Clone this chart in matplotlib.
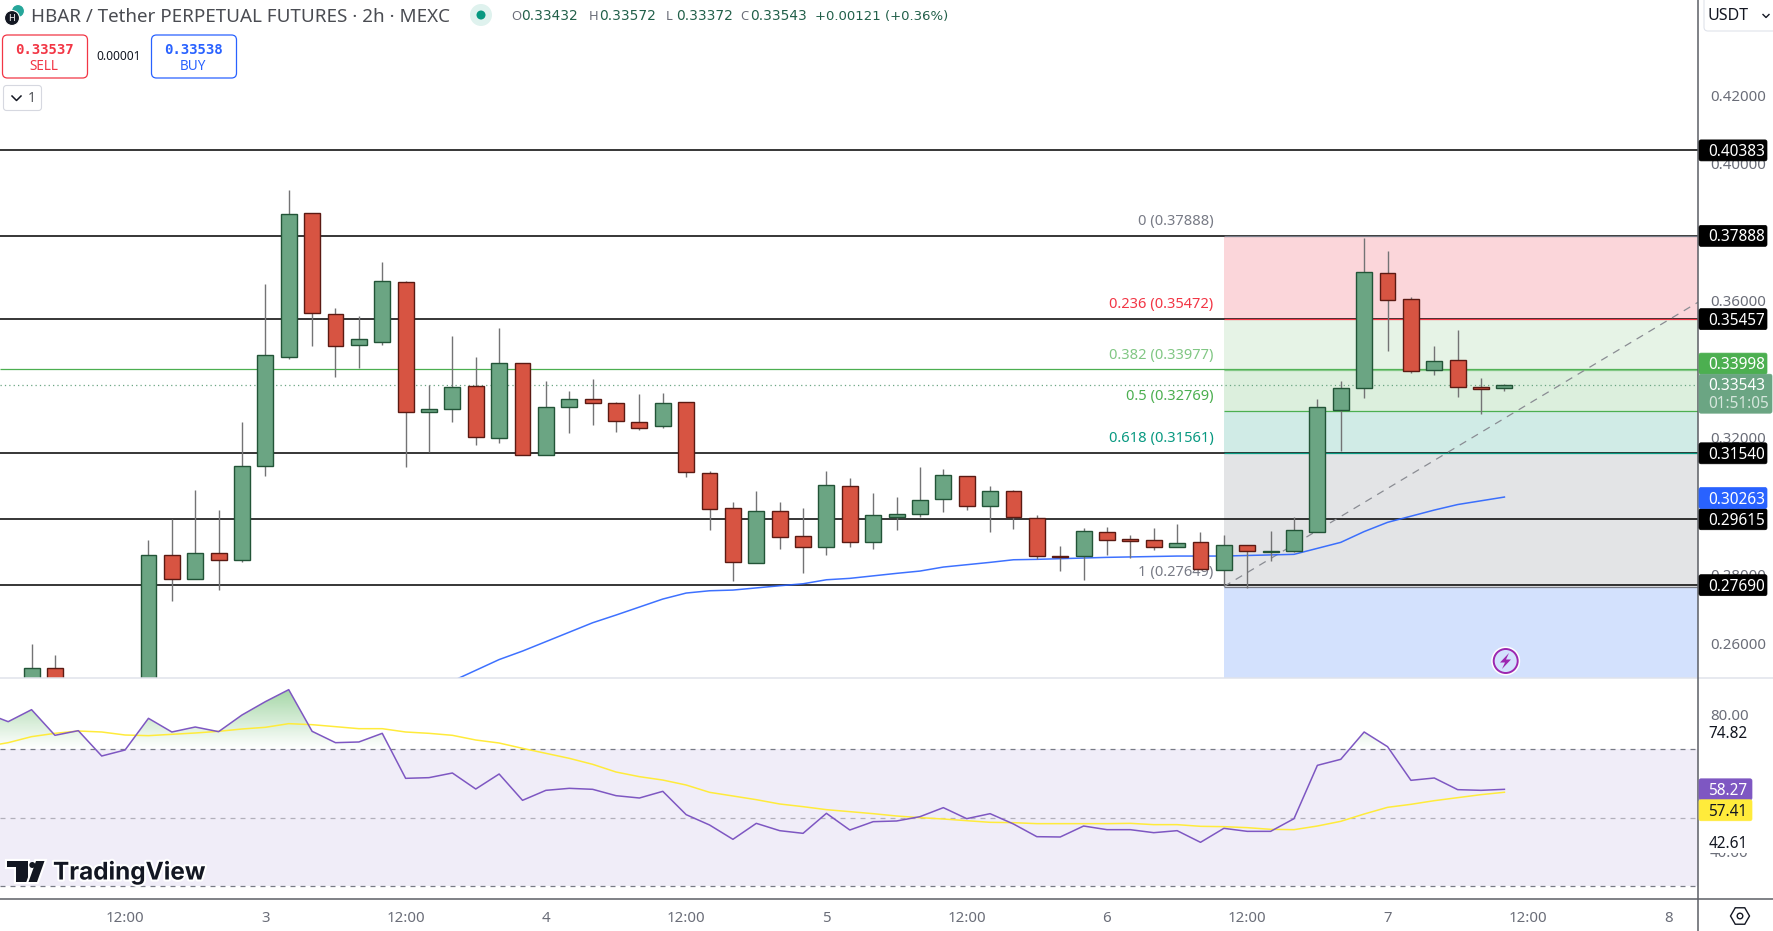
import numpy as np
import matplotlib
matplotlib.use('Agg')
import matplotlib.pyplot as plt
import matplotlib.patheffects as pe
from matplotlib.patches import Rectangle, FancyBboxPatch, Circle, Polygon, RegularPolygon
from matplotlib.path import Path

# candles, bar 0 is the 3rd at 00:00, one bar = 2h
# bars -8..-6 are below the visible pane
bars = list(range(-10, 54))
opens = [0.2460, 0.25261, np.nan, np.nan, np.nan, 0.2460, 0.2856, 0.27859, 0.28618, 0.28414,
         0.31158, 0.3436, 0.38545, 0.35596, 0.34691, 0.34798, 0.3653, 0.32735, 0.32822, 0.33494,
         0.31976, 0.34165, 0.31479, 0.32881, 0.33114, 0.32998, 0.32443, 0.32326, 0.33027, 0.30954,
         0.29932, 0.28326, 0.29845, 0.29115, 0.28794, 0.30574, 0.2894, 0.2967, 0.29757, 0.30195,
         0.30866, 0.3, 0.30429, 0.2964, 0.2854, 0.28531, 0.29231, 0.29026, 0.28998, 0.28794,
         0.2894, 0.28122, 0.28852, 0.28667, 0.28696, 0.29251, 0.32813, 0.33436, 0.36793, 0.36034,
         0.33961, 0.34253, 0.33465, 0.33432]
closes = [0.25261, 0.2450, np.nan, np.nan, np.nan, 0.2856, 0.27859, 0.28618, 0.28414, 0.31158,
          0.34399, 0.38516, 0.35625, 0.34662, 0.34866, 0.3656, 0.32735, 0.32822, 0.33465, 0.32005,
          0.34165, 0.31479, 0.32881, 0.33114, 0.32998, 0.32472, 0.32268, 0.32998, 0.30983, 0.29903,
          0.28356, 0.29845, 0.29086, 0.28794, 0.30604, 0.2894, 0.29728, 0.29757, 0.30166, 0.30896,
          0.3, 0.30429, 0.2967, 0.28531, 0.28521, 0.2926, 0.28998, 0.28988, 0.28794, 0.28911,
          0.28151, 0.28852, 0.28677, 0.28686, 0.2929, 0.32881, 0.33436, 0.36823, 0.36005, 0.33932,
          0.34224, 0.33465, 0.33426, 0.33543]
highs = [0.25971, 0.2565, np.nan, np.nan, np.nan, 0.29008, 0.29621, 0.30467, 0.29883, 0.32453,
         0.36482, 0.39226, 0.38545, 0.35781, 0.35547, 0.37124, 0.36569, 0.33533, 0.34964, 0.3435,
         0.35197, 0.34165, 0.3365, 0.33358, 0.33708, 0.33027, 0.3327, 0.3330, 0.33027, 0.31022,
         0.30107, 0.30429, 0.30107, 0.29942, 0.31022, 0.30808, 0.3038, 0.30263, 0.31139, 0.3108,
         0.30866, 0.30584, 0.30458, 0.29728, 0.28832, 0.29348, 0.29387, 0.29153, 0.29358, 0.29475,
         0.29241, 0.29154, 0.28852, 0.2927, 0.29679, 0.33124, 0.3364, 0.37825, 0.37445, 0.36102,
         0.34672, 0.35139, 0.33737, 0.33572]
lows = [0.2440, 0.2440, np.nan, np.nan, np.nan, 0.2440, 0.27236, 0.27859, 0.27557, 0.28375,
        0.30886, 0.34292, 0.34681, 0.33776, 0.34039, 0.34701, 0.31149, 0.31577, 0.32462, 0.31781,
        0.31839, 0.31479, 0.31479, 0.32141, 0.32375, 0.3217, 0.32229, 0.32287, 0.30857, 0.2931,
        0.27821, 0.28326, 0.28755, 0.28054, 0.28579, 0.28813, 0.28755, 0.2931, 0.29689, 0.29835,
        0.29884, 0.29251, 0.29329, 0.28443, 0.28112, 0.2785, 0.2857, 0.28492, 0.28725, 0.28794,
        0.28151, 0.27694, 0.27597, 0.28404, 0.28657, 0.29251, 0.31616, 0.33163, 0.34536, 0.33893,
        0.33835, 0.33192, 0.32696, 0.33372]

ema_bars = [8, 10, 11, 14, 15, 17, 18, 19, 20, 22, 23, 24, 25, 27, 28, 29, 31, 32, 33, 36, 39, 41,
            44, 46, 47, 48, 50, 51, 53]
ema_vals = [0.2489, 0.25518, 0.25766, 0.26593, 0.26818, 0.27285, 0.2746, 0.27527, 0.27547, 0.27673,
            0.27731, 0.27848, 0.27889, 0.28035, 0.28102, 0.28219, 0.28356, 0.28432, 0.28444, 0.28502,
            0.2854, 0.2854, 0.2859, 0.2894, 0.29255, 0.29524, 0.29883, 0.30044, 0.30263]

rsi_bars = list(range(-12, 54))
rsi_vals = [80.68, 78.05, 81.56, 74.06, 75.42, 68.01, 69.77, 79.03, 75.03, 76.49, 75.13, 80.0,
            83.9, 87.41, 75.23, 71.91, 72.11, 74.64, 61.48, 61.68, 63.04, 58.36, 62.75, 55.05,
            57.97, 58.56, 58.27, 56.41, 55.73, 57.68, 50.86, 47.84, 43.65, 48.32, 46.18, 45.4,
            51.25, 46.37, 48.81, 49.01, 50.27, 52.91, 49.69, 51.15, 48.13, 44.42, 44.33, 47.54,
            46.47, 46.47, 45.59, 46.18, 42.77, 46.86, 45.98, 45.98, 49.69, 65.28, 67.04, 75.03,
            70.74, 60.9, 61.58, 58.17, 57.97, 58.27]
rsi_ma = [70.74, 71.91, 73.67, 74.64, 75.32, 75.03, 74.15, 73.96, 74.35, 74.74, 75.23, 75.91,
          76.4, 77.47, 77.17, 76.59, 76.0, 76.0, 75.03, 74.64, 74.06, 72.69, 71.81, 70.25,
          68.79, 67.33, 65.58, 63.33, 61.97, 60.98, 59.53, 57.39, 56.32, 55.24, 53.98, 53.2,
          52.32, 51.74, 51.15, 50.47, 49.98, 49.59, 49.1, 48.62, 48.52, 48.23, 48.23, 48.23,
          48.23, 48.32, 47.94, 47.94, 47.45, 47.35, 47.06, 46.57, 46.47, 47.54, 48.91, 51.05,
          53.0, 53.88, 54.95, 55.83, 56.71, 57.41]

black_levels = [0.40383, 0.37888, 0.35457, 0.31540, 0.29615, 0.27690]
alert_level = 0.33998
last_price = 0.33543

fib_ratio = ['0', '0.236', '0.382', '0.5', '0.618', '1']
fib_price = [0.37888, 0.35472, 0.33977, 0.32769, 0.31561, 0.27649]
fib_line_col = ['#787b86', '#f23645', '#81c784', '#4caf50', '#089981', '#787b86']
fib_text_col = ['#787b86', '#f23645', '#81c784', '#4caf50', '#089981', '#787b86']
fib_fill_col = ['#fbd6da', '#e6f3e6', '#dcefdd', '#d0ebe6', '#e3e4e6', '#d3e1fd']
fib_bar = 41
trend_end_price = 0.3595

price_ticks = [0.26, 0.28, 0.30, 0.32, 0.36, 0.40, 0.42]
rsi_ticks = [40, 60, 80]
time_ticks = [-6, 0, 6, 12, 18, 24, 30, 36, 42, 48, 54, 60]
time_labels = ['12:00', '3', '12:00', '4', '12:00', '5', '12:00', '6', '12:00', '7', '12:00', '8']

W, H = 1774, 931
FONT = 'Noto Sans'
GREEN, GREEN_EDGE = '#6ba583', '#225437'
RED, RED_EDGE = '#d75442', '#5b1a13'
AXIS_COL = '#5d5f66'
TICK_COL = '#6a6d78'
PANE_R, PANE_TOP = 1698, 678
RSI_BOTTOM = 898.5
X_LEFT, X_RIGHT = -11.35, 61.28

plt.rcParams['font.family'] = [FONT, 'DejaVu Sans']


def px_axes(x0, y0, x1, y1):
    return fig.add_axes([x0 / W, 1 - y1 / H, (x1 - x0) / W, (y1 - y0) / H])


def put(x, y, s, color, px=14, ha='left', weight='normal', **kw):
    # va center sits a little high for digits, push it down
    return ov.text(x, y + 1.5, s, color=color, fontsize=px * 0.72, ha=ha, va='center',
                   fontweight=weight, **kw)


def to_px_y(ax, val):
    return H - ax.transData.transform((0, val))[1]


def axis_label(y, s, bg, fg='white', right=1769, h=21):
    ov.add_patch(FancyBboxPatch((PANE_R + 1, y - h / 2), right - PANE_R - 3, h,
                                boxstyle='round,pad=0,rounding_size=2', fc=bg, ec=bg, lw=0.5, zorder=5))
    put(1708.5, y, s, fg, px=15.4, weight='medium', zorder=6)


def plain_label(y, s):
    ov.add_patch(Rectangle((PANE_R + 1, y - 10.5), 60, 21, fc='white', ec='none', zorder=5))
    put(1708.5, y, s, '#131722', px=15.4, zorder=6)


fig = plt.figure(figsize=(W / 100, H / 100), dpi=100, facecolor='white')

# price pane
ax = px_axes(0, 0, PANE_R, PANE_TOP)
ax.set_xlim(X_LEFT, X_RIGHT)
ax.set_ylim(0.2498, 0.44774)
y_bottom = ax.get_ylim()[0]

fib_edges = fib_price + [y_bottom]
for i in range(len(fib_fill_col)):
    ax.fill_between([fib_bar, X_RIGHT], fib_edges[i + 1], fib_edges[i], color=fib_fill_col[i], lw=0, zorder=1)

ax.hlines(black_levels, X_LEFT, X_RIGHT, color='black', lw=1.1, zorder=2)
ax.hlines(alert_level, X_LEFT, X_RIGHT, color='#4caf50', lw=0.9, zorder=2)
ax.hlines(last_price, X_LEFT, X_RIGHT, color='#6ba583', lw=0.9, linestyles=(0, (1, 2.5)), zorder=2)
ax.hlines(fib_price, fib_bar, X_RIGHT, colors=fib_line_col, lw=0.9, zorder=2.5)
ax.plot([fib_bar, X_RIGHT], [fib_price[-1], trend_end_price], color='#8a8c93', lw=0.9,
        ls=(0, (6, 5)), zorder=3)
ax.plot(ema_bars, ema_vals, color='#2962ff', lw=1.1, zorder=3.5, alpha=0.9)

x = np.array(bars, dtype=float)
o, c, hi, lo = map(np.array, (opens, closes, highs, lows))
up = c >= o
ok = ~np.isnan(o)
ax.vlines(x[ok], lo[ok], hi[ok], color='#737375', lw=1.0, zorder=4)
ax.bar(x[ok & up], (c - o)[ok & up], bottom=o[ok & up], width=0.68, color=GREEN, edgecolor=GREEN_EDGE,
       lw=1.0, zorder=5)
ax.bar(x[ok & ~up], (o - c)[ok & ~up], bottom=c[ok & ~up], width=0.68, color=RED, edgecolor=RED_EDGE,
       lw=1.0, zorder=5)

for r, p, col, in zip(fib_ratio, fib_price, fib_text_col):
    ax.annotate(f'{r} ({p:.5f})', (fib_bar, p), xytext=(-10.5, 7), textcoords='offset pixels',
                ha='right', va='bottom', color=col, fontsize=14.7 * 0.72, zorder=3.6)

ax.set_yticks(price_ticks, [f'{t:.5f}' for t in price_ticks])
ax.yaxis.tick_right()
ax.tick_params(axis='y', length=0, pad=8.5, labelcolor=TICK_COL, labelsize=15 * 0.72)
ax.set_xticks([])
for s in ax.spines.values():
    s.set_visible(False)

# rsi pane
rx = px_axes(0, PANE_TOP + 1, PANE_R, RSI_BOTTOM)
rsi_ylim = (50 + (817.6 - RSI_BOTTOM) / 3.42, 50 + (817.6 - PANE_TOP - 1) / 3.42)
rx.axhspan(30, 70, color='#f0edf8', lw=0, zorder=1)
rx.hlines([70, 30], X_LEFT, X_RIGHT, color='#787b86', lw=0.9, ls=(0, (4, 4)), zorder=2)
rx.hlines(50, X_LEFT, X_RIGHT, color='#b2b0bb', lw=0.9, ls=(0, (4, 4)), zorder=2)

rb, rv = np.array(rsi_bars, dtype=float), np.array(rsi_vals)
band = rx.fill_between(rb, 70, rv, where=rv > 70, interpolate=True, color='none', lw=0)
grad = np.zeros((64, 2, 4))
grad[..., :3] = matplotlib.colors.to_rgb('#4caf50')
grad[..., 3] = np.linspace(0.58, 0, 64)[:, None]
im = rx.imshow(grad, extent=(X_LEFT, X_RIGHT, 70, 90), aspect='auto', zorder=1.5, origin='upper')
im.set_clip_path(Path.make_compound_path(*band.get_paths()), transform=rx.transData)
rx.set_xlim(X_LEFT, X_RIGHT)
rx.set_ylim(*rsi_ylim)

rx.plot(rsi_bars, rsi_ma, color='#ffeb3b', lw=1.1, zorder=3)
rx.plot(rsi_bars, rsi_vals, color='#7e57c2', lw=1.1, zorder=4)

rx.set_yticks(rsi_ticks, [f'{t:.2f}' for t in rsi_ticks])
rx.yaxis.tick_right()
rx.tick_params(axis='y', length=0, pad=8.5, labelcolor=TICK_COL, labelsize=15 * 0.72)
rx.set_xticks(time_ticks, time_labels)
rx.tick_params(axis='x', length=0, pad=9, labelcolor=TICK_COL, labelsize=15 * 0.72)
for s in rx.spines.values():
    s.set_visible(False)

# overlay in pixels for the chart furniture
ov = fig.add_axes([0, 0, 1, 1], facecolor='none')
ov.set_xlim(0, W)
ov.set_ylim(H, 0)
ov.axis('off')
ov.plot([PANE_R, PANE_R], [0, H], color=AXIS_COL, lw=1.1, zorder=3)
ov.plot([0, W], [RSI_BOTTOM, RSI_BOTTOM], color=AXIS_COL, lw=1.1, zorder=3)
ov.plot([0, W], [PANE_TOP, PANE_TOP], color='#e0e3eb', lw=1.1, zorder=2)

# axis labels, price
for p in black_levels:
    axis_label(to_px_y(ax, p), f'{p:.5f}', 'black')
axis_label(to_px_y(ax, alert_level) - 5.5, f'{alert_level:.5f}', '#4caf50')
axis_label(to_px_y(ax, 0.30263) + 1, '0.30263', '#2962ff')
yl = to_px_y(ax, last_price)
ov.add_patch(FancyBboxPatch((PANE_R + 1, yl - 10.5), W - PANE_R - 3, 39,
                            boxstyle='round,pad=0,rounding_size=2', fc=GREEN, ec=GREEN, lw=0.5, zorder=5))
put(1708.5, yl, f'{last_price:.5f}', 'white', px=15.4, weight='medium', zorder=6)
put(1708.5, yl + 17.5, '01:51:05', '#d5e6dc', px=15.4, zorder=6)

# axis labels, rsi
plain_label(to_px_y(rx, 74.82), '74.82')
plain_label(to_px_y(rx, 42.61), '42.61')
axis_label(to_px_y(rx, 58.27), '58.27', '#7e57c2', right=1754)
axis_label(to_px_y(rx, 57.41) + 18, '57.41', '#ffeb3b', fg='#131722', right=1754)

# header
ov.add_patch(Circle((12, 18), 7.5, fc='#131722', ec='white', lw=0.8, zorder=3))
ov.add_patch(Circle((18, 11), 6.5, fc='#26a69a', ec='white', lw=0.8, zorder=2))
put(12, 17, 'H', 'white', px=9, ha='center', weight='bold', zorder=4)
put(31, 16, 'HBAR / Tether PERPETUAL FUTURES · 2h · MEXC', '#4a4c52', px=18.8)
ov.add_patch(Circle((481, 15), 11, fc='#dff2ee', ec='none'))
ov.add_patch(Circle((481, 15), 4.5, fc='#089981', ec='none'))

ohlc_x = [511, 589, 666, 740]
ohlc_lab = ['O', 'H', 'L', 'C']
ohlc_val = ['0.33432', '0.33572', '0.33372', '0.33543']
for xp, lab, val in zip(ohlc_x, ohlc_lab, ohlc_val):
    put(xp, 15, lab, '#6a6d78', px=13)
    put(xp + 10, 15, val, '#22604a', px=13.8, family='DejaVu Sans')
put(815, 15, '+0.00121 (+0.36%)', '#22604a', px=13.2, family='DejaVu Sans')

ov.add_patch(FancyBboxPatch((2.5, 35), 85, 43, boxstyle='round,pad=0,rounding_size=5', fc='white', ec='#f23645', lw=0.9))
ov.add_patch(FancyBboxPatch((151.5, 35), 85, 43, boxstyle='round,pad=0,rounding_size=5', fc='white', ec='#2962ff', lw=0.9))
put(44, 48, '0.33537', '#f23645', px=14, ha='center', weight='bold', family='DejaVu Sans Mono')
put(44, 65.5, 'SELL', '#f23645', px=13.5, ha='center')
put(119, 54.5, '0.00001', '#131722', px=12, ha='center')
put(193, 48, '0.33538', '#2962ff', px=14, ha='center', weight='bold', family='DejaVu Sans Mono')
put(193, 65.5, 'BUY', '#2962ff', px=13.5, ha='center')
ov.add_patch(FancyBboxPatch((3.5, 85.5), 38, 25, boxstyle='round,pad=0,rounding_size=3', fc='white', ec='#d6d8e0', lw=0.8))
ov.plot([12, 16.5, 21], [96, 100.5, 96], color='#131722', lw=1.1)
put(28, 97, '1', '#4a4c52', px=14)

# currency box
ov.add_patch(FancyBboxPatch((1704, -4), 80, 35, boxstyle='round,pad=0,rounding_size=4', fc='white', ec='#e0e3eb', lw=0.8))
put(1707.5, 14, 'USDT', '#131722', px=16)
ov.plot([1763, 1766, 1769], [14.5, 17.5, 14.5], color='#131722', lw=1.0)

# bolt marker
ov.add_patch(Circle((1505.7, 661), 14.5, fc='white', ec='none', zorder=6))
ov.add_patch(Circle((1505.7, 661), 12, fc='#d3e1fd', ec='#9c27b0', lw=1.4, zorder=6))
ov.add_patch(Polygon([(1509, 653), (1500, 662.5), (1505, 662.5), (1502, 669), (1511, 659.5), (1506, 659.5)],
                     fc='#9c27b0', ec='none', zorder=7))

# tradingview logo
logo_fx = [pe.withStroke(linewidth=3, foreground='white')]
for pts in ([(6.7, 861), (28, 861), (28, 882), (16, 882), (16, 866.7), (6.7, 866.7)],
            [(36, 861), (44.5, 861), (37, 882), (28.5, 882)]):
    ov.add_patch(Polygon(pts, fc='#131722', ec='none', zorder=6, path_effects=logo_fx))
ov.add_patch(Circle((32.3, 865), 3, fc='#131722', ec='none', zorder=7))
put(53, 870.5, 'TradingView', '#131722', px=24.3, weight='bold', family='Inter', zorder=6, path_effects=logo_fx)

# settings icon
ov.add_patch(RegularPolygon((1740, 916), 6, radius=9.5, orientation=np.pi / 2, fc='white', ec='#131722', lw=1.0))
ov.add_patch(Circle((1740, 916), 2.8, fc='white', ec='#131722', lw=1.0))

fig.savefig('out.png', dpi=100)
